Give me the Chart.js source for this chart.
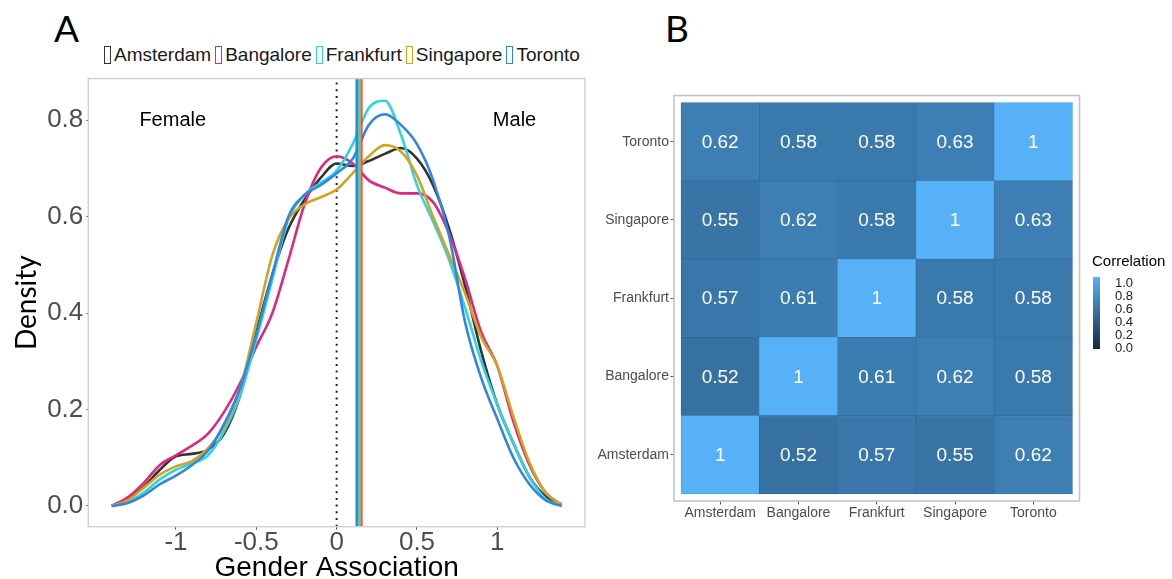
<!DOCTYPE html>
<html>
<head>
<meta charset="utf-8">
<script src="https://cdn.jsdelivr.net/npm/chart.js@4.4.1/dist/chart.umd.min.js"></script>
<style>
  body { margin: 0; width: 1172px; height: 579px; background: #fff; position: relative; overflow: hidden;
         font-family: "Liberation Sans", Arial, sans-serif; }
  .tag { position: absolute; top: 7px; font-family: Lato, "Open Sans", sans-serif; font-size: 37px; line-height: 42px; color: #000; }
  #legendA { position: absolute; left: 100px; top: 44px; display: flex; align-items: center;
             font-size: 19px; line-height: 22px; color: #1a1a1a; white-space: nowrap; }
  #legendA .key { display: inline-block; width: 5px; height: 16px; border: 1.8px solid; margin: 0 3px 0 4px; }
  #densityChart { position: absolute; left: 0; top: 60px; }
  #heatChart { position: absolute; left: 580px; top: 0; }
</style>
</head>
<body>
<div class="tag" style="left:54px">A</div>
<div class="tag" style="left:665px">B</div>
<div id="legendA"></div>
<canvas id="densityChart" width="600" height="519"></canvas>
<canvas id="heatChart" width="592" height="579"></canvas>
<script>
// ---- datos del panel A (densidades por ciudad) ----
const cities = ['Amsterdam', 'Bangalore', 'Frankfurt', 'Singapore', 'Toronto'];
const cityColors = ['#333333', '#E0267F', '#2FD3E3', '#D6A21E', '#2F86E3'];

// puntos de la rejilla de asociación de género
const gridX = [-1.4, -1.3, -1.2, -1.1, -1.0, -0.9, -0.8, -0.7, -0.6, -0.5, -0.4, -0.3, -0.2, -0.1, 0.0,
               0.1, 0.2, 0.3, 0.4, 0.5, 0.6, 0.7, 0.8, 0.9, 1.0, 1.1, 1.2, 1.3, 1.4];

const densAmsterdam = [0.0, 0.015, 0.04, 0.075, 0.103, 0.108, 0.117, 0.15, 0.23, 0.36, 0.48, 0.575, 0.635, 0.68, 0.71,
                       0.705, 0.715, 0.73, 0.742, 0.72, 0.665, 0.575, 0.455, 0.32, 0.21, 0.13, 0.06, 0.02, 0.003];
const densBangalore = [0.0, 0.018, 0.048, 0.085, 0.105, 0.125, 0.15, 0.195, 0.255, 0.33, 0.40, 0.51, 0.625, 0.70, 0.725,
                       0.71, 0.675, 0.66, 0.648, 0.648, 0.63, 0.565, 0.47, 0.36, 0.29, 0.175, 0.085, 0.028, 0.002];
const densFrankfurt = [0.0, 0.008, 0.028, 0.055, 0.075, 0.088, 0.105, 0.155, 0.23, 0.345, 0.47, 0.595, 0.645, 0.67, 0.695,
                       0.75, 0.825, 0.84, 0.77, 0.665, 0.59, 0.51, 0.41, 0.30, 0.21, 0.13, 0.06, 0.015, 0.0];
const densSingapore = [0.0, 0.012, 0.038, 0.065, 0.082, 0.093, 0.12, 0.165, 0.245, 0.38, 0.52, 0.595, 0.625, 0.64, 0.656,
                       0.69, 0.725, 0.748, 0.735, 0.685, 0.60, 0.52, 0.44, 0.35, 0.29, 0.185, 0.09, 0.028, 0.002];
const densToronto = [0.0, 0.006, 0.022, 0.045, 0.063, 0.085, 0.115, 0.17, 0.245, 0.355, 0.48, 0.60, 0.645, 0.665, 0.69,
                     0.72, 0.79, 0.812, 0.79, 0.75, 0.676, 0.56, 0.38, 0.265, 0.18, 0.10, 0.045, 0.012, 0.0];
const densities = [densAmsterdam, densBangalore, densFrankfurt, densSingapore, densToronto];

// media de cada ciudad (líneas verticales) y línea neutra
const meanAssoc = [0.14, 0.153, 0.133, 0.146, 0.125];
const neutralX = 0;

const xTicksA = [-1, -0.5, 0, 0.5, 1];
const xTickLabelsA = ['-1', '-0.5', '0', '0.5', '1'];
const yTicksA = [0, 0.2, 0.4, 0.6, 0.8];
const yTickLabelsA = ['0.0', '0.2', '0.4', '0.6', '0.8'];
const xRangeA = [-1.5455, 1.5455];
const yRangeA = [-0.043, 0.886];

// ---- datos del panel B (correlaciones) ----
const corrAmsterdam = [1, 0.52, 0.57, 0.55, 0.62];
const corrBangalore = [0.52, 1, 0.61, 0.62, 0.58];
const corrFrankfurt = [0.57, 0.61, 1, 0.58, 0.58];
const corrSingapore = [0.55, 0.62, 0.58, 1, 0.63];
const corrToronto = [0.62, 0.58, 0.58, 0.63, 1];
const corrRows = [corrAmsterdam, corrBangalore, corrFrankfurt, corrSingapore, corrToronto];
const colorbarTicks = [1.0, 0.8, 0.6, 0.4, 0.2, 0.0];

// Leyenda del panel A (cajitas tipo glifo)
const legendBox = document.getElementById('legendA');
cities.forEach((name, i) => {
  const key = document.createElement('span');
  key.className = 'key';
  key.style.borderColor = cityColors[i];
  legendBox.appendChild(key);
  legendBox.appendChild(document.createTextNode(name));
});

// Marco del panel (borde en los cuatro lados)
const panelBorder = {
  id: 'panelBorder',
  afterDatasetsDraw(chart, args, opts) {
    const a = chart.chartArea, ctx = chart.ctx;
    ctx.save();
    ctx.strokeStyle = opts.color;
    ctx.lineWidth = opts.width;
    ctx.strokeRect(a.left, a.top, a.right - a.left, a.bottom - a.top);
    ctx.restore();
  }
};

// Etiquetas "Female" / "Male"
const sideLabels = {
  id: 'sideLabels',
  afterDraw(chart) {
    const ctx = chart.ctx, xs = chart.scales.x, ys = chart.scales.y;
    ctx.save();
    ctx.font = '20px "Liberation Sans", Arial, sans-serif';
    ctx.fillStyle = '#000';
    ctx.textAlign = 'center';
    ctx.textBaseline = 'middle';
    ctx.fillText('Female', xs.getPixelForValue(-1.02), ys.getPixelForValue(0.8));
    ctx.fillText('Male', xs.getPixelForValue(1.107), ys.getPixelForValue(0.8));
    ctx.restore();
  }
};

const tickFont = { family: '"Liberation Sans", Arial, sans-serif', size: 26 };

const densitySets = cities.map((name, i) => ({
  label: name,
  data: gridX.map((x, k) => ({ x: x, y: densities[i][k] })),
  borderColor: cityColors[i],
  borderWidth: 2.6,
  pointRadius: 0,
  fill: false,
  cubicInterpolationMode: 'monotone',
  order: 20 - i
}));

// orden de dibujo de las medias: negro, rosa, dorado, cian, azul encima
const meanDrawOrder = [5, 4, 2, 3, 1];
const meanSets = cities.map((name, i) => ({
  label: name + ' media',
  data: [{ x: meanAssoc[i], y: yRangeA[0] }, { x: meanAssoc[i], y: yRangeA[1] }],
  borderColor: cityColors[i],
  borderWidth: 2.6,
  pointRadius: 0,
  order: meanDrawOrder[i]
}));

const neutralSet = {
  label: 'neutral',
  data: [{ x: neutralX, y: yRangeA[0] }, { x: neutralX, y: yRangeA[1] }],
  borderColor: '#222',
  borderWidth: 2,
  borderDash: [2, 4.7],
  pointRadius: 0,
  order: 30
};

new Chart(document.getElementById('densityChart'), {
  type: 'line',
  data: { datasets: [...densitySets, ...meanSets, neutralSet] },
  options: {
    responsive: false,
    animation: false,
    devicePixelRatio: 1,
    layout: { padding: { top: 12.7, right: 15, left: 0, bottom: 0 } },
    plugins: {
      legend: { display: false },
      tooltip: { enabled: false },
      panelBorder: { color: '#CFCFCF', width: 1.4 }
    },
    scales: {
      x: {
        type: 'linear',
        min: xRangeA[0], max: xRangeA[1],
        afterBuildTicks: s => { s.ticks = xTicksA.map(v => ({ value: v })); },
        afterFit: s => { s.height = 52.3; },
        ticks: { callback: (v, i) => xTickLabelsA[i], font: tickFont, color: '#4D4D4D', padding: -2, maxRotation: 0, autoSkip: false },
        grid: { drawOnChartArea: false, drawTicks: true, tickLength: 3, color: '#555' },
        border: { display: false },
        title: { display: true, text: 'Gender Association', color: '#000',
                 font: { family: '"Liberation Sans", Arial, sans-serif', size: 28, lineHeight: 0.8 }, padding: 0 }
      },
      y: {
        type: 'linear',
        min: yRangeA[0], max: yRangeA[1],
        afterBuildTicks: s => { s.ticks = yTicksA.map(v => ({ value: v })); },
        afterFit: s => { s.width = 88.3; },
        ticks: { callback: (v, i) => yTickLabelsA[i], font: tickFont, color: '#4D4D4D', padding: 3, autoSkip: false },
        grid: { drawOnChartArea: false, drawTicks: true, tickLength: 2, color: '#555' },
        border: { display: false },
        title: { display: true, text: 'Density', color: '#000',
                 font: { family: 'Lato, "Open Sans", sans-serif', size: 28, lineHeight: 1.2 }, padding: { top: 10, bottom: 0 } }
      }
    }
  },
  plugins: [panelBorder, sideLabels]
});

// ---- Panel B: mapa de calor ----
const lowColor = [19, 43, 67];     // #132B43
const highColor = [86, 177, 247];  // #56B1F7
function corrColor(v, shade) {
  const f = shade || 1;
  const c = lowColor.map((lo, k) => Math.round((lo + (highColor[k] - lo) * v) * f));
  return 'rgb(' + c.join(',') + ')';
}

const cellLabels = {
  id: 'cellLabels',
  afterDatasetsDraw(chart) {
    const ctx = chart.ctx;
    ctx.save();
    ctx.font = '19px "Liberation Sans", Arial, sans-serif';
    ctx.fillStyle = '#fff';
    ctx.textAlign = 'center';
    ctx.textBaseline = 'middle';
    chart.data.datasets.forEach((ds, d) => {
      chart.getDatasetMeta(d).data.forEach((bar, k) => {
        ctx.fillText(String(ds.data[k].v), bar.x, (bar.y + bar.base) / 2 + 1);
      });
    });
    ctx.restore();
  }
};

// Barra de color "Correlation"
const colorbar = {
  id: 'colorbar',
  afterDraw(chart) {
    const ctx = chart.ctx;
    const left = 513, top = 277, w = 7, h = 72;
    ctx.save();
    ctx.font = '15px "Liberation Sans", Arial, sans-serif';
    ctx.fillStyle = '#000';
    ctx.textAlign = 'left';
    ctx.textBaseline = 'middle';
    ctx.fillText('Correlation', 512, 262);
    const g = ctx.createLinearGradient(0, top, 0, top + h);
    g.addColorStop(0, corrColor(1));
    g.addColorStop(1, corrColor(0));
    ctx.fillStyle = g;
    ctx.fillRect(left, top, w, h);
    ctx.font = '13px "Liberation Sans", Arial, sans-serif';
    ctx.fillStyle = '#222';
    colorbarTicks.forEach((t, i) => {
      ctx.fillText(t.toFixed(1), 535, 283.5 + i * 13);
    });
    ctx.restore();
  }
};

const heatSets = corrRows.map((row, r) => ({
  label: cities[r],
  data: row.map((v, c) => ({ x: c + 0.5, y: [r, r + 1], v: v })),
  backgroundColor: row.map(v => corrColor(v)),
  borderColor: row.map(v => corrColor(v, 0.9)),
  borderWidth: 0.8,
  borderSkipped: false,
  barPercentage: 1,
  categoryPercentage: 1,
  grouped: false
}));

const smallFont = { family: '"Liberation Sans", Arial, sans-serif', size: 14 };
const cityTicks = cities.map((c, i) => ({ value: i + 0.5 }));

new Chart(document.getElementById('heatChart'), {
  type: 'bar',
  data: { datasets: heatSets },
  options: {
    responsive: false,
    animation: false,
    devicePixelRatio: 1,
    layout: { padding: { top: 95.5, right: 92.5, left: 0, bottom: 0 } },
    plugins: {
      legend: { display: false },
      tooltip: { enabled: false },
      panelBorder: { color: '#C4C4C4', width: 1.6 }
    },
    scales: {
      x: {
        type: 'linear',
        min: -0.09, max: 5.09,
        offset: false,
        afterBuildTicks: s => { s.ticks = cityTicks.map(t => ({ value: t.value })); },
        afterFit: s => { s.height = 78; },
        ticks: { callback: (v, i) => cities[i], font: smallFont, color: '#4D4D4D', padding: 0, maxRotation: 0, autoSkip: false },
        grid: { offset: false, drawOnChartArea: false, drawTicks: true, tickLength: 3.5, color: '#555' },
        border: { display: false }
      },
      y: {
        type: 'linear',
        min: -0.09, max: 5.09,
        afterBuildTicks: s => { s.ticks = cityTicks.map(t => ({ value: t.value })); },
        afterFit: s => { s.width = 94; },
        ticks: { callback: (v, i) => cities[i], font: smallFont, color: '#4D4D4D', padding: 1.5, autoSkip: false },
        grid: { drawOnChartArea: false, drawTicks: true, tickLength: 3.5, color: '#555' },
        border: { display: false }
      }
    }
  },
  plugins: [panelBorder, cellLabels, colorbar]
});
</script>
</body>
</html>
